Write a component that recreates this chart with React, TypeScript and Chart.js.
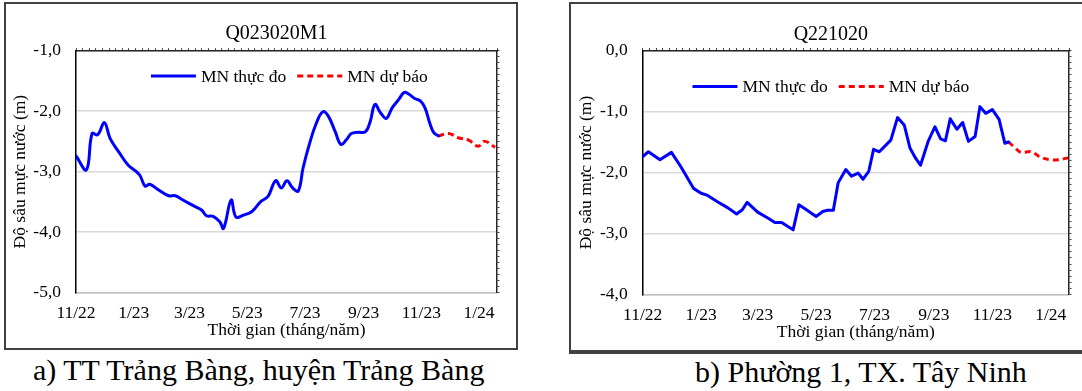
import React, { useEffect, useRef } from 'react';
import { Chart, registerables } from 'chart.js';

Chart.register(...registerables);

const FONT = "'Liberation Serif', 'Times New Roman', serif";

// x axis: days since 1 Nov 2022
const tickDays = [0, 61, 120, 181, 242, 304, 365, 426];
const tickLabels = ['11/22', '1/23', '3/23', '5/23', '7/23', '9/23', '11/23', '1/24'];
const xMaxDay = 445;

const seriesLabels = ['MN thực đo', 'MN dự báo'];

// Chart a: Q023020M1
const aObsDays = [0, 11, 17, 23, 30, 36, 45, 55, 67, 73, 78, 87, 98, 105, 113, 126, 133, 138, 145, 152, 156, 164, 169, 177, 186, 195, 203, 211, 217, 223, 229, 235, 240, 247, 254, 261, 267, 274, 280, 286, 291, 298, 306, 311, 316, 322, 328, 334, 341, 347, 352, 358, 364, 369, 374, 378, 383];
const aObsDepth = [-2.74, -2.97, -2.37, -2.39, -2.19, -2.45, -2.67, -2.89, -3.05, -3.24, -3.21, -3.30, -3.40, -3.40, -3.47, -3.58, -3.64, -3.73, -3.74, -3.83, -3.94, -3.47, -3.75, -3.72, -3.66, -3.50, -3.41, -3.15, -3.27, -3.15, -3.27, -3.32, -2.94, -2.53, -2.20, -2.01, -2.09, -2.34, -2.55, -2.47, -2.37, -2.35, -2.34, -2.17, -1.89, -2.03, -2.12, -1.95, -1.81, -1.69, -1.72, -1.79, -1.83, -1.95, -2.20, -2.35, -2.41];
const aFcDays = [383, 394, 404, 415, 425, 432, 443];
const aFcDepth = [-2.41, -2.37, -2.44, -2.48, -2.58, -2.50, -2.60];

// Chart b: Q221020
const bObsDays = [0, 6, 18, 30, 40, 53, 61, 67, 78, 89, 98, 104, 109, 120, 131, 138, 145, 157, 163, 169, 181, 188, 193, 199, 204, 212, 218, 225, 230, 236, 241, 247, 259, 266, 273, 279, 285, 290, 298, 305, 311, 316, 321, 328, 334, 340, 347, 352, 358, 365, 372, 378, 382];
const bObsDepth = [-1.74, -1.66, -1.79, -1.67, -1.91, -2.26, -2.34, -2.37, -2.48, -2.58, -2.68, -2.61, -2.49, -2.65, -2.75, -2.82, -2.82, -2.94, -2.53, -2.59, -2.72, -2.64, -2.62, -2.62, -2.17, -1.95, -2.06, -2.01, -2.11, -1.98, -1.62, -1.66, -1.47, -1.10, -1.22, -1.60, -1.77, -1.88, -1.49, -1.25, -1.45, -1.48, -1.12, -1.29, -1.18, -1.49, -1.41, -0.92, -1.03, -0.97, -1.13, -1.52, -1.50];
const bFcDays = [382, 389, 395, 406, 414, 425, 434, 444];
const bFcDepth = [-1.50, -1.60, -1.67, -1.66, -1.74, -1.79, -1.79, -1.76];

const insideLegend = {
  id: 'insideLegend',
  afterDatasetsDraw(chart: any, _args: any, opts: any) {
    const { ctx, chartArea } = chart;
    ctx.save();
    ctx.font = `${opts.fontSize}px ${FONT}`;
    const items = chart.data.datasets.map((ds: any) => ({
      label: ds.label,
      color: ds.borderColor,
      dash: ds.borderDash || [],
      w: ctx.measureText(ds.label).width,
    }));
    const total =
      items.reduce((s: number, it: any) => s + opts.sample + opts.gap + it.w, 0) +
      opts.itemGap * (items.length - 1);
    let x = (chartArea.left + chartArea.right) / 2 + opts.dx - total / 2;
    const y = chartArea.top + opts.dy;
    items.forEach((it: any) => {
      ctx.strokeStyle = it.color;
      ctx.lineWidth = 3;
      ctx.setLineDash(it.dash);
      ctx.beginPath();
      ctx.moveTo(x, y);
      ctx.lineTo(x + opts.sample, y);
      ctx.stroke();
      x += opts.sample + opts.gap;
      ctx.setLineDash([]);
      ctx.fillStyle = '#000';
      ctx.textBaseline = 'middle';
      ctx.textAlign = 'left';
      ctx.fillText(it.label, x, y + 1);
      x += it.w + opts.itemGap;
    });
    ctx.restore();
  },
};

const titleShift = {
  id: 'titleShift',
  afterLayout(chart: any, _args: any, opts: any) {
    const t = chart.titleBlock;
    if (!t) return;
    const ca = chart.chartArea;
    const w = t.right - t.left;
    const c = (ca.left + ca.right) / 2 + (opts.dx || 0);
    t.left = c - w / 2;
    t.right = c + w / 2;
  },
};

type P = {
  title: string;
  obsDays: number[];
  obsVals: number[];
  fcDays: number[];
  fcVals: number[];
  yMin: number;
  yMax: number;
  obsTension: number;
  fcTension: number;
  pad: { left: number; right: number; top: number; bottom: number };
  yAxisW: number;
  xAxisH: number;
  titlePad: { top: number; bottom: number };
  titleDx: number;
  legendDx: number;
  legendDy: number;
};

function makeConfig(p: P): any {
  const fmt = (v: number) => v.toFixed(1).replace('.', ',');
  return {
    type: 'line',
    data: {
      datasets: [
        {
          label: seriesLabels[0],
          data: p.obsDays.map((d, i) => ({ x: d, y: p.obsVals[i] })),
          borderColor: '#0000FF',
          backgroundColor: '#0000FF',
          borderWidth: 3,
          pointRadius: 0,
          tension: p.obsTension,
          borderJoinStyle: 'round',
          borderCapStyle: 'round',
          xAxisID: 'x',
          yAxisID: 'y',
        },
        {
          label: seriesLabels[1],
          data: p.fcDays.map((d, i) => ({ x: d, y: p.fcVals[i] })),
          borderColor: '#FF0000',
          backgroundColor: '#FF0000',
          borderWidth: 3,
          borderDash: [6, 4],
          pointRadius: 0,
          tension: p.fcTension,
          xAxisID: 'x',
          yAxisID: 'y',
        },
      ],
    },
    options: {
      responsive: false,
      animation: false,
      devicePixelRatio: 1,
      layout: { padding: p.pad },
      plugins: {
        legend: { display: false },
        tooltip: { enabled: false },
        title: {
          display: true,
          text: p.title,
          color: '#000',
          font: { family: FONT, size: 20, weight: 'normal' },
          padding: p.titlePad,
        },
        titleShift: { dx: p.titleDx },
        insideLegend: {
          fontSize: 17.5,
          sample: 45,
          gap: 5,
          itemGap: 11,
          dx: p.legendDx,
          dy: p.legendDy,
        },
      },
      scales: {
        x: {
          type: 'linear',
          position: 'bottom',
          min: 0,
          max: xMaxDay,
          afterBuildTicks: (scale: any) => {
            scale.ticks = tickDays.map((v) => ({ value: v }));
          },
          afterFit: (scale: any) => {
            scale.height = p.xAxisH;
          },
          grid: { display: false, drawTicks: false },
          border: { display: true, color: '#BFBFBF', width: 1.5 },
          ticks: {
            color: '#000',
            padding: 10,
            maxRotation: 0,
            autoSkip: false,
            font: { family: FONT, size: 17.5 },
            callback: (v: any) => {
              const i = tickDays.indexOf(Number(v));
              return i >= 0 ? tickLabels[i] : '';
            },
          },
          title: {
            display: true,
            text: 'Thời gian (tháng/năm)',
            color: '#000',
            font: { family: FONT, size: 17.5 },
            padding: { top: 0, bottom: 0 },
          },
        },
        x2: {
          type: 'linear',
          position: 'top',
          min: 0,
          max: xMaxDay,
          grid: {
            display: true,
            drawOnChartArea: false,
            drawTicks: true,
            tickLength: 2.5,
            color: '#404040',
            lineWidth: 1,
          },
          ticks: { display: false, stepSize: 7, maxTicksLimit: 200, autoSkip: false },
          border: { display: true, color: '#262626', width: 1.5 },
          afterFit: (scale: any) => {
            scale.height = 0;
          },
        },
        y: {
          type: 'linear',
          position: 'left',
          min: p.yMin,
          max: p.yMax,
          afterFit: (scale: any) => {
            scale.width = p.yAxisW;
          },
          grid: { color: '#D9D9D9', lineWidth: 1.5, drawTicks: false },
          border: { display: true, color: '#000', width: 1.5 },
          ticks: {
            stepSize: 1,
            color: '#000',
            padding: 15,
            font: { family: FONT, size: 17.5 },
            callback: (v: any) => fmt(Number(v)),
          },
          title: {
            display: true,
            text: 'Độ sâu mực nước (m)',
            color: '#000',
            font: { family: FONT, size: 17.5 },
            padding: { top: 0, bottom: 0 },
          },
        },
        y2: {
          type: 'linear',
          position: 'right',
          min: p.yMin,
          max: p.yMax,
          grid: {
            display: true,
            drawOnChartArea: false,
            drawTicks: true,
            tickLength: 2.5,
            color: '#404040',
            lineWidth: 1,
          },
          ticks: { display: false, stepSize: 0.1, maxTicksLimit: 200, autoSkip: false },
          border: { display: true, color: '#262626', width: 1.5 },
          afterFit: (scale: any) => {
            scale.width = 0;
          },
        },
      },
    },
    plugins: [insideLegend, titleShift],
  };
}

function ChartCanvas({ cfg, width, height }: { cfg: any; width: number; height: number }) {
  const ref = useRef<HTMLCanvasElement>(null);
  useEffect(() => {
    const chart = new Chart(ref.current as HTMLCanvasElement, cfg);
    return () => chart.destroy();
  }, []);
  return (
    <canvas
      ref={ref}
      width={width}
      height={height}
      style={{ width, height, display: 'block' }}
    />
  );
}

const cfgA = makeConfig({
  title: 'Q023020M1',
  obsDays: aObsDays,
  obsVals: aObsDepth,
  fcDays: aFcDays,
  fcVals: aFcDepth,
  yMin: -5,
  yMax: -1,
  obsTension: 0.4,
  fcTension: 0.4,
  pad: { left: 3.5, right: 19, top: 0, bottom: 7.5 },
  yAxisW: 66.5,
  xAxisH: 48,
  titlePad: { top: 17.3, bottom: 5.4 },
  titleDx: -10,
  legendDx: 2.8,
  legendDy: 25.3,
});

const cfgB = makeConfig({
  title: 'Q221020',
  obsDays: bObsDays,
  obsVals: bObsDepth,
  fcDays: bFcDays,
  fcVals: bFcDepth,
  yMin: -4,
  yMax: 0,
  obsTension: 0,
  fcTension: 0.4,
  pad: { left: 4.5, right: 13, top: 0, bottom: 7.5 },
  yAxisW: 67.2,
  xAxisH: 48,
  titlePad: { top: 18.3, bottom: 4.2 },
  titleDx: -25,
  legendDx: -25,
  legendDy: 36,
});

export default function App() {
  useEffect(() => {
    document.body.style.margin = '0';
    document.body.style.background = '#fff';
  }, []);
  const caption: React.CSSProperties = {
    position: 'absolute',
    fontFamily: FONT,
    fontSize: 30,
    lineHeight: '30px',
    whiteSpace: 'nowrap',
    color: '#000',
  };
  return (
    <div style={{ position: 'absolute', left: 0, top: 0, width: 1082, height: 391, overflow: 'hidden', background: '#fff' }}>
      <div
        style={{
          position: 'absolute',
          left: 4,
          top: 2,
          width: 510,
          height: 344,
          border: '2px solid #404040',
        }}
      >
        <ChartCanvas cfg={cfgA} width={510} height={344} />
      </div>
      <div
        style={{
          position: 'absolute',
          left: 569,
          top: 2,
          width: 520,
          height: 346,
          borderTop: '2px solid #404040',
          borderLeft: '2px solid #404040',
          borderBottom: '4px solid #404040',
        }}
      >
        <ChartCanvas cfg={cfgB} width={511} height={346} />
      </div>
      <div style={{ ...caption, left: 33, top: 355 }}>a) TT Trảng Bàng, huyện Trảng Bàng</div>
      <div style={{ ...caption, left: 695, top: 356.5 }}>b) Phường 1, TX. Tây Ninh</div>
    </div>
  );
}
